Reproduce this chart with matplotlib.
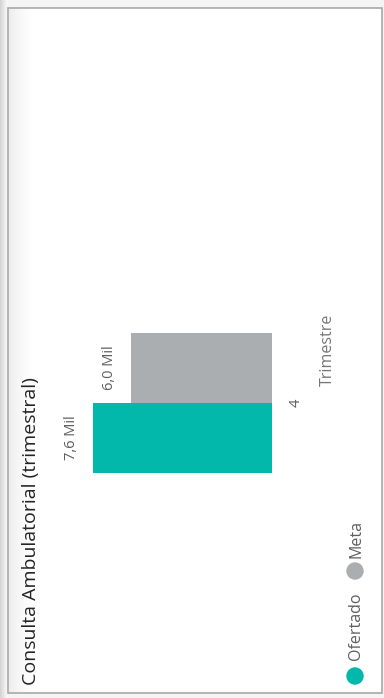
import matplotlib.pyplot as plt
from matplotlib.patches import Rectangle, Circle
import numpy as np

plt.rcParams['font.family'] = ['Open Sans', 'DejaVu Sans']

# dados
categorias = ['4']
series = ['Ofertado', 'Meta']
valores = [7600, 6000]
rotulos = ['7,6 Mil', '6,0 Mil']
cores = ['#01B8AA', '#ABAEB1']

W, H = 384, 698
fig = plt.figure(figsize=(W / 100, H / 100), dpi=100)

# fundo e moldura (coordenadas em pixels)
bg = fig.add_axes([0, 0, 1, 1])
bg.set_xlim(0, W)
bg.set_ylim(H, 0)
bg.axis('off')
bg.add_patch(Rectangle((0, 0), W, H, color='#F4F4F4', zorder=0))
grad = np.linspace(0, 1, 50).reshape(1, -1)
bg.imshow(grad, extent=(0, 8, H, 0), cmap='Greys_r', vmin=-3, vmax=1.2, aspect='auto', zorder=1)
bg.add_patch(Rectangle((8, 8), 374, 685, facecolor='white', edgecolor='#A8A8A8', lw=1.2, zorder=2))
bg.imshow(grad, extent=(9, 32, 692, 9), cmap='Greys_r', vmin=-4, vmax=1, aspect='auto', alpha=0.6, zorder=3)

# titulo
bg.text(31, 531, 'Consulta Ambulatorial (trimestral)', rotation=90, ha='center', va='center',
        fontsize=14, color='#252423', zorder=5)

# legenda
bg.add_patch(Circle((355, 676), 8, color=cores[0], zorder=5))
bg.text(356, 626, series[0], rotation=90, ha='center', va='center', fontsize=11.5, color='#605E5C', zorder=5)
bg.add_patch(Circle((355, 571), 8, color=cores[1], zorder=5))
bg.text(356, 539, series[1], rotation=90, ha='center', va='center', fontsize=11.5, color='#605E5C', zorder=5)

# grafico de barras (girado)
ax = fig.add_axes([80 / W, 208 / H, 192 / W, 170 / H])
ax.patch.set_alpha(0)
pos = [0, 1]
ax.barh(pos, valores, height=1, color=cores, zorder=3)
ax.set_xlim(7600 * 192 / 179, 0)
ax.set_ylim(-0.743, 1.686)
for p, v, r in zip(pos, valores, rotulos):
    ax.annotate(r, xy=(v, p), xytext=(-21, 0), textcoords='offset pixels', rotation=90,
                ha='center', va='center', fontsize=10.5, color='#605E5C')

ax.yaxis.tick_right()
ax.set_yticks([0.5], categorias)
ax.tick_params(axis='y', length=0, pad=12, labelsize=10.5, labelcolor='#605E5C')
for t in ax.get_yticklabels():
    t.set_rotation(90)
    t.set_va('center')
ax.set_xticks([])
for s in ax.spines.values():
    s.set_visible(False)
ax.set_ylabel('Trimestre', rotation=90, fontsize=11.5, color='#777777')
ax.yaxis.set_label_position('right')
ax.yaxis.set_label_coords((320 - 80) / 192, (490 - 350) / 170)

fig.savefig('out.png', dpi=100)
